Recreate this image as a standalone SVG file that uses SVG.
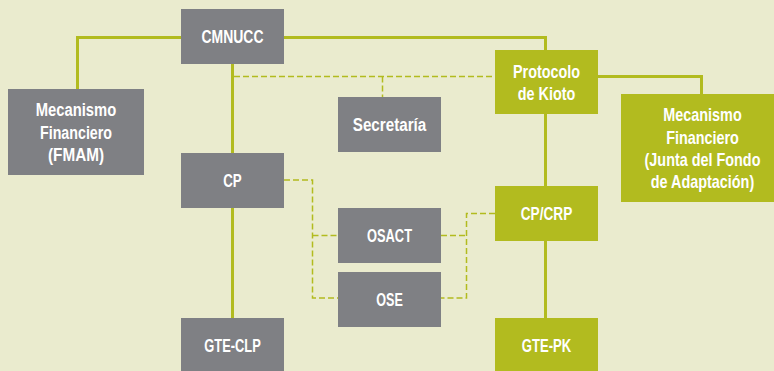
<svg xmlns="http://www.w3.org/2000/svg" width="774" height="371" viewBox="0 0 774 371">
<style>
.bg{fill:#EAEBCE}
.g{fill:#7F8084}
.y{fill:#B2BB1F}
.s{fill:none;stroke:#B2BB1F;stroke-width:3}
.d{fill:none;stroke:#B2BB1F;stroke-width:1.5;stroke-dasharray:6 3}
text{font-family:"Liberation Sans",Arial,sans-serif;font-weight:bold;font-size:18px;fill:#FFFFFF;text-anchor:middle}
</style>
<rect class="bg" x="0" y="0" width="774" height="371"/>
<g id="connectors">
<polyline class="s" points="181,37.5 77.5,37.5 77.5,89"/>
<polyline class="s" points="284,37.5 545.5,37.5 545.5,50"/>
<line class="s" x1="232.5" y1="64" x2="232.5" y2="153"/>
<line class="s" x1="232.5" y1="208" x2="232.5" y2="318"/>
<polyline class="s" points="598,76.5 701.5,76.5 701.5,94"/>
<line class="s" x1="545.5" y1="114" x2="545.5" y2="186"/>
<line class="s" x1="545.5" y1="241" x2="545.5" y2="318"/>
<polyline class="d" points="234,76.5 495,76.5"/>
<line class="d" x1="382.5" y1="76.5" x2="382.5" y2="97"/>
<polyline class="d" points="284,180 312.5,180 312.5,298 338,298"/>
<line class="d" x1="312.5" y1="235.5" x2="338" y2="235.5"/>
<polyline class="d" points="495,213.5 466.5,213.5 466.5,298 441,298"/>
<line class="d" x1="441" y1="235.5" x2="466.5" y2="235.5"/>
</g>
<g id="cmnucc"><rect class="g" x="181" y="9" width="103" height="55"/><text x="232.5" y="43" textLength="62" lengthAdjust="spacingAndGlyphs">CMNUCC</text></g>
<g id="mecanismo-fmam"><rect class="g" x="8" y="89" width="136" height="86"/><text x="76" y="116" textLength="80.5" lengthAdjust="spacingAndGlyphs">Mecanismo</text><text x="76" y="139" textLength="72" lengthAdjust="spacingAndGlyphs">Financiero</text><text x="76" y="161" textLength="56" lengthAdjust="spacingAndGlyphs">(FMAM)</text></g>
<g id="secretaria"><rect class="g" x="338" y="97" width="103" height="55"/><text x="389.5" y="131" textLength="73.5" lengthAdjust="spacingAndGlyphs">Secretaría</text></g>
<g id="protocolo"><rect class="y" x="495" y="50" width="103" height="64"/><text x="546.5" y="78" textLength="67" lengthAdjust="spacingAndGlyphs">Protocolo</text><text x="546.5" y="100" textLength="57.5" lengthAdjust="spacingAndGlyphs">de Kioto</text></g>
<g id="mecanismo-fa"><rect class="y" x="621" y="94" width="153" height="108"/>
<g transform="translate(702.5 0) scale(0.8 1)"><text x="0" y="121">Mecanismo</text><text x="0" y="144">Financiero</text><text x="0" y="166">(Junta del Fondo</text><text x="0" y="188">de Adaptación)</text></g></g>
<g id="cp"><rect class="g" x="181" y="153" width="103" height="55"/><text x="232.5" y="187" textLength="18.5" lengthAdjust="spacingAndGlyphs">CP</text></g>
<g id="cpcrp"><rect class="y" x="495" y="186" width="103" height="55"/><text x="546.5" y="220" textLength="51.5" lengthAdjust="spacingAndGlyphs">CP/CRP</text></g>
<g id="osact"><rect class="g" x="338" y="208" width="103" height="55"/><text x="389.5" y="242" textLength="45" lengthAdjust="spacingAndGlyphs">OSACT</text></g>
<g id="ose"><rect class="g" x="338" y="272" width="103" height="55"/><text x="389.5" y="306" textLength="26.5" lengthAdjust="spacingAndGlyphs">OSE</text></g>
<g id="gte-clp"><rect class="g" x="181" y="318" width="103" height="55"/><text x="232.5" y="352" textLength="56.5" lengthAdjust="spacingAndGlyphs">GTE-CLP</text></g>
<g id="gte-pk"><rect class="y" x="495" y="318" width="103" height="55"/><text x="546.5" y="352" textLength="49.5" lengthAdjust="spacingAndGlyphs">GTE-PK</text></g>
</svg>
